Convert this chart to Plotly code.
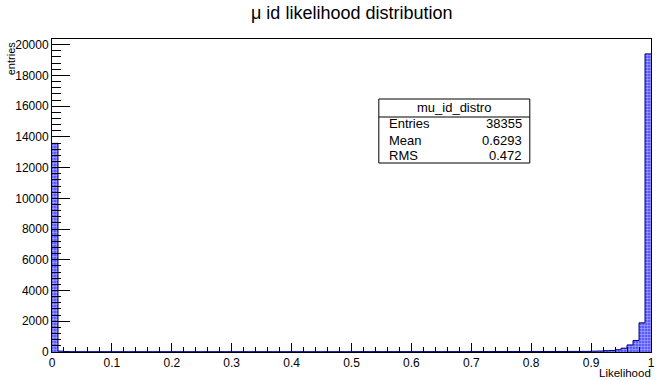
import plotly.graph_objects as go

# Histogram mu_id_distro: 100 bins over [0, 1]
bin_low = 0.0
bin_width = 0.01
counts = [
    13580, 60, 30, 14, 12, 12, 11, 12, 13, 12,
    12, 11, 12, 12, 13, 12, 11, 12, 12, 12,
    13, 12, 12, 11, 12, 12, 12, 13, 12, 12,
    11, 12, 12, 12, 13, 12, 12, 11, 12, 12,
    12, 13, 12, 12, 11, 12, 12, 12, 13, 12,
    18, 19, 20, 20, 21, 19, 20, 20, 21, 20,
    19, 20, 21, 20, 20, 19, 21, 20, 20, 22,
    26, 28, 29, 30, 30, 31, 32, 33, 32, 33,
    34, 35, 34, 35, 36, 36, 37, 38, 40, 41,
    55, 65, 80, 100, 150, 250, 460, 750, 1900, 19400,
]

x_tick_vals = [0, 0.1, 0.2, 0.3, 0.4, 0.5, 0.6, 0.7, 0.8, 0.9, 1]
x_tick_text = ["0", "0.1", "0.2", "0.3", "0.4", "0.5", "0.6", "0.7", "0.8", "0.9", "1"]

title_text = "\u03bc id likelihood distribution"
x_title = "Likelihood"
y_title = "entries"
stats_name = "mu_id_distro"
stats_rows = [("Entries", "38355"), ("Mean", "0.6293"), ("RMS", "0.472")]

centers = [bin_low + (i + 0.5) * bin_width for i in range(len(counts))]
edges = [bin_low + i * bin_width for i in range(len(counts) + 1)]

W, H = 660, 380
L, R, T, B = 52, 5, 39, 28
FONT = "Liberation Sans, Arial, Helvetica, sans-serif"


def px(x):
    return (x - L) / (W - L - R)


def py(y):
    return (H - B - y) / (H - T - B)


fig = go.Figure()

# hatched fill
fig.add_trace(go.Bar(
    x=centers, y=counts, width=bin_width,
    marker=dict(
        color="#4040ff",
        line=dict(width=0),
        pattern=dict(shape=".", fgcolor="#ffffff", bgcolor="#4040ff",
                     size=3, solidity=0.55),
    ),
    hoverinfo="skip",
))

# step outline of the histogram
step_x = edges
step_y = counts + [counts[-1]]
fig.add_trace(go.Scatter(
    x=step_x, y=step_y, mode="lines",
    line=dict(shape="hv", color="#000080", width=1),
    hoverinfo="skip",
))

ymax = 1.05 * max(counts)

fig.update_layout(
    width=W, height=H,
    margin=dict(l=L, r=R, t=T, b=B, pad=0),
    paper_bgcolor="white", plot_bgcolor="white",
    showlegend=False, bargap=0,
    font=dict(family=FONT, size=12, color="black"),
    xaxis=dict(
        range=[0, 1], tickmode="array", tickvals=x_tick_vals, ticktext=x_tick_text,
        ticks="inside", ticklen=9, tickcolor="black", tickwidth=1,
        minor=dict(dtick=0.02, tick0=0, ticks="inside", ticklen=5, tickcolor="black"),
        showline=True, linecolor="black", linewidth=1, mirror=True,
        showgrid=False, zeroline=False,
        tickfont=dict(size=12),
    ),
    yaxis=dict(
        range=[0, ymax], dtick=2000, tick0=0,
        ticks="inside", ticklen=18, tickcolor="black", tickwidth=1,
        minor=dict(dtick=400, ticks="inside", ticklen=9, tickcolor="black"),
        showline=True, linecolor="black", linewidth=1, mirror=True,
        showgrid=False, zeroline=False,
        tickfont=dict(size=12),
        tickformat="d",
    ),
)

annotations = [
    dict(text=title_text, x=px(354), y=py(13), xref="paper", yref="paper",
         xanchor="center", yanchor="middle", showarrow=False,
         font=dict(size=18)),
    dict(text=x_title, x=px(656), y=py(380), xref="paper", yref="paper",
         xanchor="right", yanchor="bottom", showarrow=False, borderpad=0,
         font=dict(size=11.5)),
    dict(text=y_title, x=px(11), y=py(39), xref="paper", yref="paper",
         xanchor="center", yanchor="top", textangle=-90, showarrow=False,
         font=dict(size=11)),
    dict(text=stats_name, x=px(457), y=py(108), xref="paper", yref="paper",
         xanchor="center", yanchor="middle", showarrow=False,
         font=dict(size=13)),
]
row_y = [124, 140, 155]
for (label, value), yy in zip(stats_rows, row_y):
    annotations.append(dict(text=label, x=px(389), y=py(yy), xref="paper",
                            yref="paper", xanchor="left", yanchor="middle",
                            showarrow=False, font=dict(size=13)))
    annotations.append(dict(text=value, x=px(527), y=py(yy), xref="paper",
                            yref="paper", xanchor="right", yanchor="middle",
                            showarrow=False, font=dict(size=13)))
fig.update_layout(annotations=annotations)

# statistics box
fig.add_shape(type="rect", xref="paper", yref="paper",
              x0=px(381), x1=px(533), y0=py(163), y1=py(99),
              line=dict(color="black", width=1), fillcolor="white", layer="above")
fig.add_shape(type="line", xref="paper", yref="paper",
              x0=px(381), x1=px(533), y0=py(117), y1=py(117),
              line=dict(color="black", width=1), layer="above")

fig.write_html("out.html")
